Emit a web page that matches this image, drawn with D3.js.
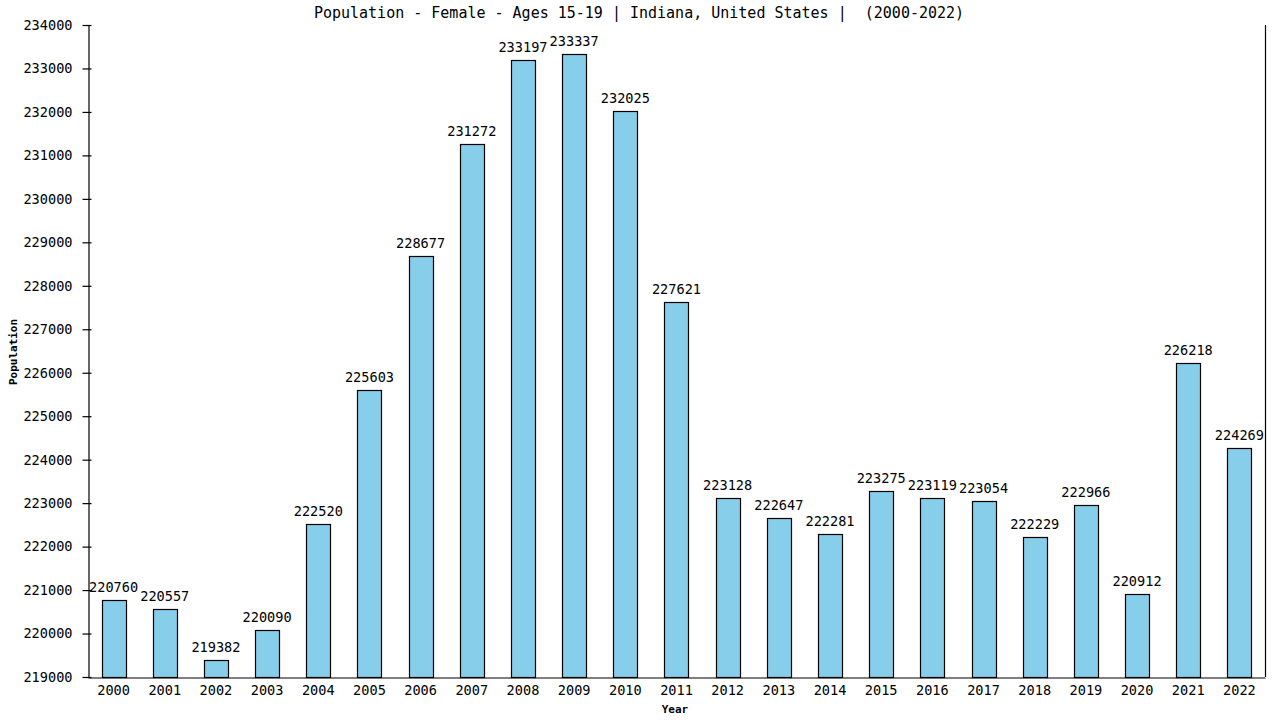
<!DOCTYPE html>
<html>
<head>
<meta charset="utf-8">
<script src="https://cdn.jsdelivr.net/npm/d3@7"></script>
<style>
  body { margin: 0; background: #fff; }
  svg text { font-family: "DejaVu Sans Mono", monospace; fill: #000; white-space: pre; }
</style>
</head>
<body>
<svg id="chart" width="1280" height="720"></svg>
<script>
const years = ['2000', '2001', '2002', '2003', '2004', '2005', '2006', '2007', '2008', '2009', '2010', '2011',
    '2012', '2013', '2014', '2015', '2016', '2017', '2018', '2019', '2020', '2021', '2022'];
const population = [220760, 220557, 219382, 220090, 222520, 225603, 228677, 231272, 233197, 233337, 232025, 227621,
    223128, 222647, 222281, 223275, 223119, 223054, 222229, 222966, 220912, 226218, 224269];
const yTicks = [219000, 220000, 221000, 222000, 223000, 224000, 225000, 226000, 227000, 228000, 229000, 230000,
    231000, 232000, 233000, 234000];
const title = 'Population - Female - Ages 15-19 | Indiana, United States |  (2000-2022)';

drawChart();

function drawChart() {
    const svg = d3.select('#chart');
    const left = 88, right = 1265, top = 25, bottom = 677;

    const x = d3.scaleBand().domain(years).range([left, right]).paddingInner(0.53).paddingOuter(0.265);
    const y = d3.scaleLinear().domain([219000, 234000]).range([bottom, top]);

    // bars
    svg.append('g').selectAll('rect')
        .data(population)
        .join('rect')
        .attr('x', (d, i) => Math.round(x(years[i])) + 0.5)
        .attr('y', d => Math.round(y(d)) + 0.5)
        .attr('width', Math.round(x.bandwidth()))
        .attr('height', d => bottom - Math.round(y(d)))
        .attr('fill', '#87ceeb')
        .attr('stroke', '#000')
        .attr('stroke-width', 1.2);

    // value labels
    svg.append('g').selectAll('text')
        .data(population)
        .join('text')
        .attr('x', (d, i) => x(years[i]) + x.bandwidth() / 2)
        .attr('y', d => y(d) - 8)
        .attr('text-anchor', 'middle')
        .attr('font-size', '13.6px')
        .text(d => d);

    // y axis
    const yAxis = svg.append('g')
        .attr('transform', `translate(${left + 0.5},0)`)
        .call(d3.axisLeft(y).tickValues(yTicks).tickFormat(d3.format('d')).tickSize(6).tickSizeOuter(0));
    yAxis.select('.domain').attr('stroke', '#000').attr('stroke-width', 1.2);
    yAxis.selectAll('.tick line').attr('x2', 3).attr('x1', -6).attr('stroke-width', 1.2);
    yAxis.selectAll('.tick text').attr('x', -16).attr('font-size', '13.6px')
        .style('font-family', '"DejaVu Sans Mono", monospace');

    // x axis
    const xAxis = svg.append('g')
        .attr('transform', `translate(0,${bottom + 0.5})`)
        .call(d3.axisBottom(x).tickSize(0).tickSizeOuter(0));
    xAxis.select('.domain').attr('stroke', '#000').attr('stroke-width', 1.2);
    xAxis.selectAll('.tick text').attr('y', 8).attr('font-size', '13.6px')
        .style('font-family', '"DejaVu Sans Mono", monospace');

    // right border
    svg.append('line')
        .attr('x1', right + 0.5).attr('x2', right + 0.5)
        .attr('y1', top).attr('y2', bottom)
        .attr('stroke', '#000').attr('stroke-width', 1.2);

    // title
    svg.append('text')
        .attr('x', 639).attr('y', 18)
        .attr('text-anchor', 'middle')
        .attr('font-size', '15px')
        .text(title);

    // axis titles
    svg.append('text')
        .attr('x', 675).attr('y', 713)
        .attr('text-anchor', 'middle')
        .attr('font-size', '11px')
        .attr('font-weight', 'bold')
        .text('Year');

    svg.append('text')
        .attr('transform', 'translate(17,352) rotate(-90)')
        .attr('text-anchor', 'middle')
        .attr('font-size', '11px')
        .attr('font-weight', 'bold')
        .text('Population');
}
</script>
</body>
</html>
